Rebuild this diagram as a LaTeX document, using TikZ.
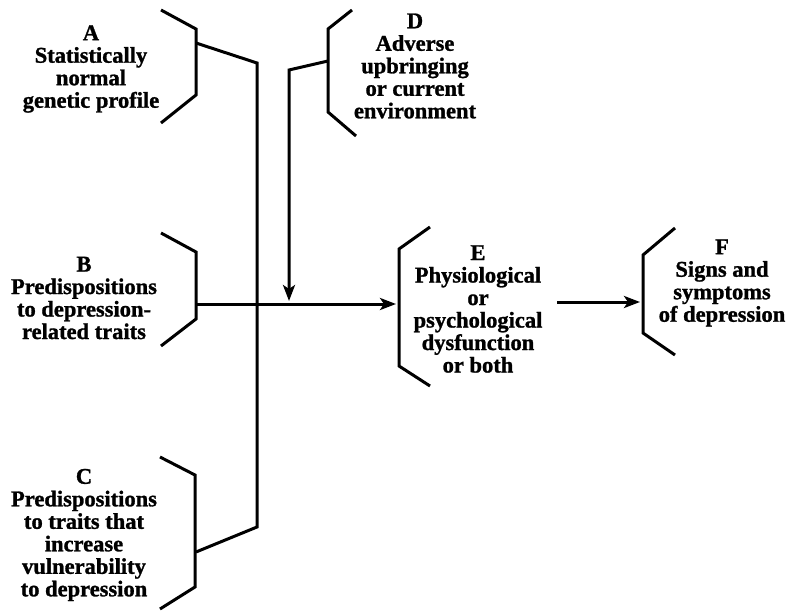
\documentclass[tikz,border=0pt]{standalone}
\usepackage{fontspec}
\setmainfont{Liberation Serif}[BoldFeatures={FakeBold=1.2}]
\usetikzlibrary{arrows.meta}
\begin{document}
\begin{tikzpicture}[x=1pt,y=-1pt,
  line width=3pt,
  label/.style={align=center,font=\fontsize{22.5}{22.5}\selectfont\bfseries,inner sep=0pt},
  bracket/.style={line cap=butt,line join=miter},
  link/.style={line join=miter},
  arrowlink/.style={-{Stealth[length=16pt,width=12pt,inset=4pt]}}]
\useasboundingbox (0,0) rectangle (789,612);

% text blocks
\node[label] (A) at (91,69)  {A\\Statistically\\normal\\genetic profile};
\node[label] (B) at (84,298) {B\\Predispositions\\to depression-\\related traits};
\node[label] (C) at (84,535) {C\\Predispositions\\to traits that\\increase\\vulnerability\\to depression};
\node[label] (D) at (415,66) {D\\Adverse\\upbringing\\or current\\environment};
\node[label] (E) at (478,309) {E\\Physiological\\or\\psychological\\dysfunction\\or both};
\node[label] (F) at (722,283) {F\\Signs and\\symptoms\\of depression};

% brackets
\draw[bracket] (161,10) -- (196,29) -- (196,95) -- (161,123);
\draw[bracket] (161,233) -- (196,252) -- (196,319) -- (161,346);
\draw[bracket] (160,457) -- (195,475) -- (195,587) -- (160,609);
\draw[bracket] (352,10) -- (328,29) -- (328,112) -- (356,136);
\draw[bracket] (430,227) -- (399,249) -- (399,366) -- (430,386);
\draw[bracket] (675,228) -- (643,255) -- (643,333) -- (675,355);

% attachment points
\coordinate (aOut) at (196,43);
\coordinate (bOut) at (196,304);
\coordinate (cOut) at (196,552);
\coordinate (dOut) at (328,61);
\coordinate (eIn)  at (396,304);
\coordinate (eOut) at (557,302);
\coordinate (fIn)  at (640,302);
\coordinate (j1) at (257,63);
\coordinate (j2) at (257,527);
\coordinate (dj) at (289,70);
\coordinate (dTip) at (289,301);

% connectors
\draw[link] (aOut) -- (j1) -- (j2) -- (cOut);
\draw[arrowlink] (bOut) -- (eIn);
\draw[link,arrowlink] (dOut) -- (dj) -- (dTip);
\draw[arrowlink] (eOut) -- (fIn);
\end{tikzpicture}
\end{document}
